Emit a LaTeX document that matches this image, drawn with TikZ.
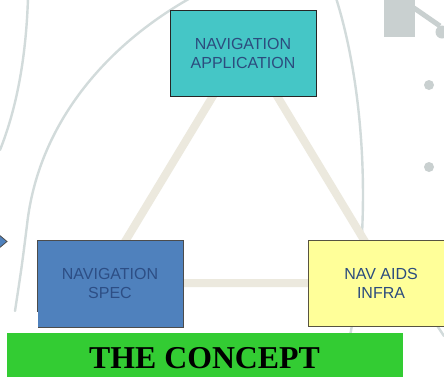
\documentclass[tikz,border=0pt]{standalone}
\usepackage{fontspec}
\setmainfont{Liberation Sans}
\newfontfamily\titlefont{Liberation Serif}
\definecolor{decor}{HTML}{D2DBDB}
\definecolor{decordark}{HTML}{C9D0D0}
\definecolor{trianglecol}{HTML}{ECE9DE}
\definecolor{tealfill}{HTML}{45C6C6}
\definecolor{bluefill}{HTML}{4F81BD}
\definecolor{yellowfill}{HTML}{FFFF99}
\definecolor{bannerfill}{HTML}{33CC33}
\definecolor{labeltext}{HTML}{2C4C7E}
\definecolor{speclabel}{HTML}{2D4E85}
\tikzset{
  conceptbox/.style={rectangle, minimum width=146pt, minimum height=86pt,
    inner sep=0pt, align=center, font=\fontsize{16}{19}\selectfont,
    text=labeltext, line width=1pt},
  decorline/.style={draw=decor, line width=2.4pt, line cap=round},
  triangleside/.style={draw=trianglecol, line width=8pt, line join=miter},
}
\begin{document}
\begin{tikzpicture}[x=1pt, y=-1pt]
  \useasboundingbox (0,0) rectangle (444,376);
  \fill[white] (0,0) rectangle (444,376);

  % background ornaments
  \draw[decorline] (28,-2) .. controls (26,60) and (16,110) .. (0,150);
  \draw[decorline] (194,-4) .. controls (105,45) and (38,125) .. (27,225)
                   .. controls (22,265) .. (15,311);
  \draw[decorline] (336,-2) .. controls (362,80) and (374,210) .. (350,336);
  \draw[decorline] (436,324) -- (444,336);
  \fill[decordark] (384,-1) rectangle (415,37);
  \draw[draw=decordark, line width=5pt] (414,8) -- (440,26);
  \fill[decordark] (442,32) circle (6.5);
  \fill[decordark] (429,85) circle (5);
  \fill[decordark] (429,167) circle (5);

  % small arrow head at the left edge
  \filldraw[fill=bluefill, draw=black!70, line width=0.8pt]
    (-2,234) -- (7,241.5) -- (-2,249) -- cycle;

  % the triangle joining the three boxes
  \coordinate (apex) at (245,43);
  \coordinate (baseL) at (100,283);
  \coordinate (baseR) at (390,283);
  \draw[triangleside] (apex) -- (baseL) -- (baseR) -- cycle;

  % the three boxes
  \node[conceptbox, fill=tealfill, draw=black!85] (app) at (243,53.5)
    {NAVIGATION\\APPLICATION};
  \node[conceptbox, fill=bluefill, draw=black!70, minimum height=87pt,
        text=speclabel] (spec) at (110,283.5) {NAVIGATION\\SPEC};
  \node[conceptbox, fill=yellowfill, draw=black!60!yellow!60!black]
    (infra) at (381,283) {NAV AIDS\\INFRA};

  % white strip along the lower left
  \fill[white] (-1,311.5) rectangle (37.6,332);

  % title banner
  \node[rectangle, fill=bannerfill, minimum width=396pt, minimum height=46pt,
        inner sep=0pt, anchor=north west] (title) at (7,333) {};
  \node[font=\titlefont\bfseries\fontsize{31.8}{34}\selectfont, text=black]
    (titletext) at (204.5,358) {THE CONCEPT};
\end{tikzpicture}
\end{document}
